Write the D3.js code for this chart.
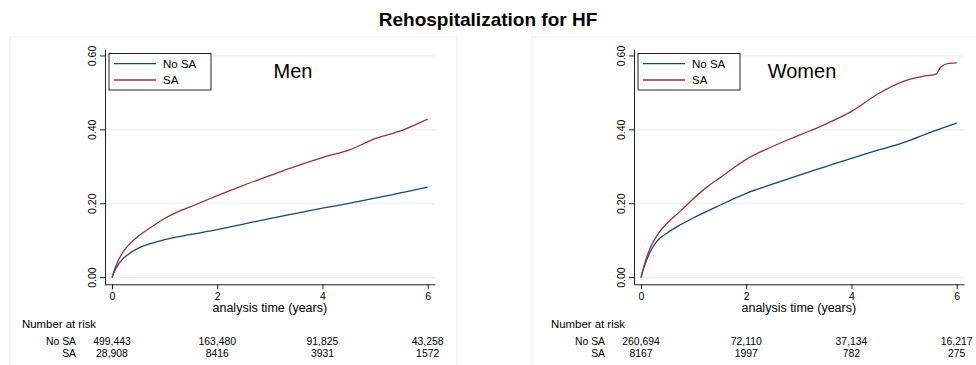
<!DOCTYPE html>
<html>
<head>
<meta charset="utf-8">
<script src="https://cdn.jsdelivr.net/npm/d3@7"></script>
<style>
  body { margin: 0; background: #fff; }
  svg { font-family: "Liberation Sans", Arial, sans-serif; }
</style>
</head>
<body>
<svg id="chart" width="976" height="365"></svg>
<script>
// time points (years) and cumulative incidence
var menTimes = [0, 0.05, 0.1, 0.2, 0.3, 0.5, 0.75, 1, 1.5, 2, 2.5, 3, 3.5, 4, 4.5, 5, 5.5, 6];
var menNoSA = [0, 0.018, 0.031, 0.050, 0.062, 0.080, 0.093, 0.103, 0.117, 0.130, 0.145, 0.160, 0.174, 0.188, 0.201, 0.215, 0.230, 0.245];

var menSATimes = [0, 0.05, 0.1, 0.2, 0.3, 0.5, 0.75, 1, 1.25, 1.5, 1.75, 2, 2.5, 3, 3.5, 4, 4.5, 5, 5.5, 6];
var menSA = [0, 0.022, 0.040, 0.067, 0.086, 0.112, 0.137, 0.160, 0.178, 0.192, 0.207, 0.222, 0.250, 0.276, 0.302, 0.325, 0.345, 0.376, 0.398, 0.429];

var womenTimes = [0, 0.05, 0.1, 0.2, 0.3, 0.5, 0.75, 1, 1.5, 2, 2.5, 3, 3.5, 4, 4.5, 5, 5.5, 6];
var womenNoSA = [0, 0.025, 0.045, 0.076, 0.098, 0.121, 0.143, 0.162, 0.196, 0.228, 0.253, 0.277, 0.300, 0.323, 0.345, 0.366, 0.393, 0.418];

var womenSATimes = [0, 0.05, 0.1, 0.2, 0.3, 0.5, 0.75, 1, 1.25, 1.5, 1.75, 2, 2.5, 3, 3.5, 4, 4.5, 5, 5.4, 5.6, 5.7, 5.85, 6];
var womenSA = [0, 0.028, 0.052, 0.088, 0.113, 0.148, 0.180, 0.214, 0.245, 0.270, 0.296, 0.320, 0.355, 0.385, 0.415, 0.450, 0.497, 0.532, 0.546, 0.550, 0.570, 0.580, 0.581];

var xTicks = [0, 2, 4, 6];
var yTicks = [0, 0.2, 0.4, 0.6];
var seriesNames = ["No SA", "SA"];

var menRiskNoSA = ["499,443", "163,480", "91,825", "43,258"];
var menRiskSA = ["28,908", "8416", "3931", "1572"];
var womenRiskNoSA = ["260,694", "72,110", "37,134", "16,217"];
var womenRiskSA = ["8167", "1997", "782", "275"];

var colors = ["#1a476f", "#90353b"];

var svg = d3.select("#chart");

svg.append("text")
  .attr("x", 488)
  .attr("y", 26)
  .attr("text-anchor", "middle")
  .attr("font-size", "19px")
  .attr("font-weight", "bold")
  .text("Rehospitalization for HF");

function zip(ts, vs) {
  var out = [];
  for (var i = 0; i < ts.length; i++) {
    out.push({ t: ts[i], v: vs[i] });
  }
  return out;
}

function drawPanel(dx, boxX, title, titleX, series, riskNoSA, riskSA) {
  var g = svg.append("g").attr("transform", "translate(" + dx + ",0)");

  // light frame around each graph
  svg.append("rect")
    .attr("x", boxX)
    .attr("y", 37)
    .attr("width", 447)
    .attr("height", 340)
    .attr("fill", "none")
    .attr("stroke", "#e8eeee")
    .attr("stroke-width", 1);

  var x = d3.scaleLinear().domain([-0.133, 6.139]).range([105, 435]);
  var y = d3.scaleLinear().domain([-0.018, 0.618]).range([284.3, 49.3]);

  // grid
  g.selectAll(".grid")
    .data(yTicks)
    .enter()
    .append("line")
    .attr("x1", 105)
    .attr("x2", 435)
    .attr("y1", function (d) { return y(d); })
    .attr("y2", function (d) { return y(d); })
    .attr("stroke", "#e6eeee")
    .attr("stroke-width", 1);

  var yAxis = d3.axisLeft(y)
    .tickValues(yTicks)
    .tickSize(5)
    .tickSizeOuter(0)
    .tickFormat(d3.format(".2f"));

  var xAxis = d3.axisBottom(x)
    .tickValues(xTicks)
    .tickSize(5)
    .tickSizeOuter(0)
    .tickFormat(d3.format("d"));

  var ya = g.append("g")
    .attr("transform", "translate(105,0)")
    .call(yAxis);
  ya.selectAll("text")
    .attr("font-size", "10.5px")
    .attr("font-family", "Liberation Sans, Arial, sans-serif")
    .attr("fill", "#000")
    .attr("text-anchor", "middle")
    .attr("x", null)
    .attr("dy", null)
    .attr("transform", function (d) { return "translate(-9," + y(d) + ") rotate(-90)"; })
    .attr("y", 0);
  ya.selectAll(".tick").attr("transform", null);
  ya.selectAll(".tick line")
    .attr("y1", function (d) { return y(d); })
    .attr("y2", function (d) { return y(d); });

  var xa = g.append("g")
    .attr("transform", "translate(0,284.3)")
    .call(xAxis);
  xa.selectAll("text")
    .attr("font-size", "10.5px")
    .attr("font-family", "Liberation Sans, Arial, sans-serif")
    .attr("fill", "#000")
    .attr("y", 8);

  g.selectAll(".domain").attr("stroke", "#222");
  g.selectAll(".tick line").attr("stroke", "#222");

  g.append("text")
    .attr("x", x(3))
    .attr("y", 312)
    .attr("text-anchor", "middle")
    .attr("font-size", "12.5px")
    .text("analysis time (years)");

  // curves
  var line = d3.line()
    .curve(d3.curveMonotoneX)
    .x(function (d) { return x(d.t); })
    .y(function (d) { return y(d.v); });

  for (var s = 0; s < series.length; s++) {
    g.append("path")
      .datum(series[s])
      .attr("fill", "none")
      .attr("stroke", colors[s])
      .attr("stroke-width", 1.3)
      .attr("d", line);
  }

  // legend
  g.append("rect")
    .attr("x", 109)
    .attr("y", 53.5)
    .attr("width", 102)
    .attr("height", 36.5)
    .attr("fill", "#fff")
    .attr("stroke", "#222")
    .attr("stroke-width", 1);

  var leg = g.selectAll(".leg")
    .data(seriesNames)
    .enter()
    .append("g")
    .attr("transform", function (d, i) { return "translate(0," + (63.7 + i * 16.3) + ")"; });
  leg.append("line")
    .attr("x1", 114)
    .attr("x2", 156)
    .attr("stroke", function (d, i) { return colors[i]; })
    .attr("stroke-width", 1.3);
  leg.append("text")
    .attr("x", 163)
    .attr("y", 4)
    .attr("font-size", "11.5px")
    .text(function (d) { return d; });

  g.append("text")
    .attr("x", titleX)
    .attr("y", 78)
    .attr("text-anchor", "middle")
    .attr("font-size", "20px")
    .text(title);

  // number at risk table
  g.append("text")
    .attr("x", 22)
    .attr("y", 327.5)
    .attr("font-size", "11.4px")
    .text("Number at risk");

  var rows = [riskNoSA, riskSA];
  for (var r = 0; r < rows.length; r++) {
    var ry = 345 + r * 11.5;
    g.append("text")
      .attr("x", 76)
      .attr("y", ry)
      .attr("text-anchor", "end")
      .attr("font-size", "10.4px")
      .text(seriesNames[r]);
    g.selectAll(".risk" + r)
      .data(rows[r])
      .enter()
      .append("text")
      .attr("x", function (d, i) { return x(xTicks[i]); })
      .attr("y", ry)
      .attr("text-anchor", "middle")
      .attr("font-size", "10.4px")
      .text(function (d) { return d; });
  }
}

drawPanel(0, 10, "Men", 293,
  [zip(menTimes, menNoSA), zip(menSATimes, menSA)], menRiskNoSA, menRiskSA);
drawPanel(529, 532, "Women", 273,
  [zip(womenTimes, womenNoSA), zip(womenSATimes, womenSA)], womenRiskNoSA, womenRiskSA);
</script>
</body>
</html>
